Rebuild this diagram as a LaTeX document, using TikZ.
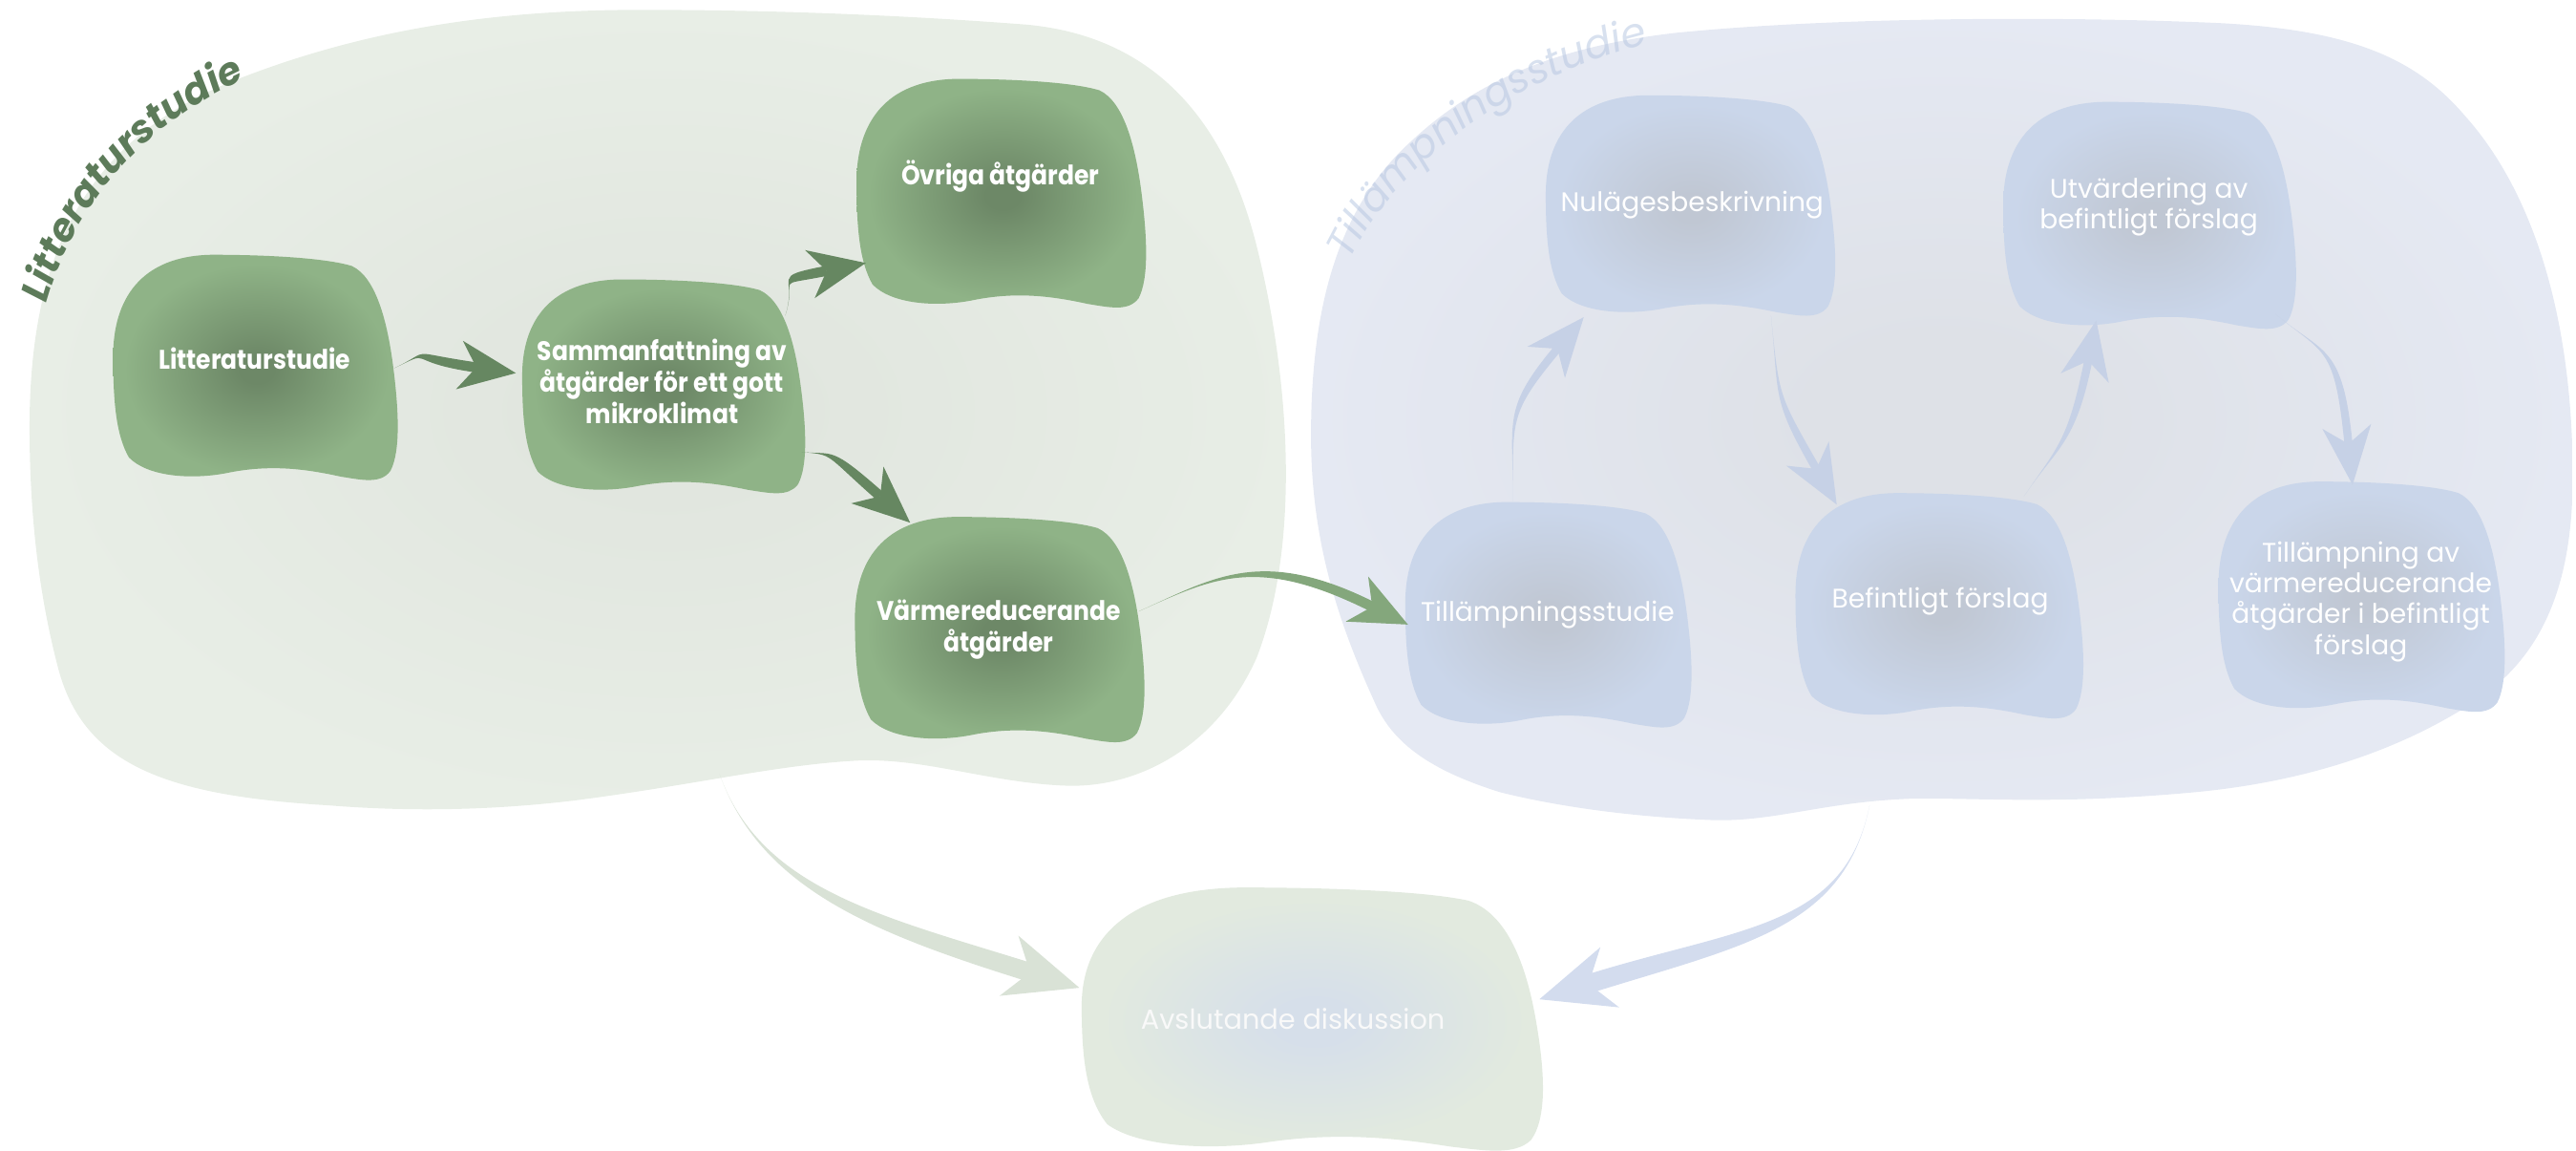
\documentclass[tikz,border=0pt]{standalone}
\usepackage{fontspec}
\setmainfont{Poppins}
\newfontfamily\narrowfont{Poppins}[FakeStretch=0.89]
\usetikzlibrary{calc,decorations.text}

\definecolor{gin}{HTML}{6D8867}
\definecolor{gout}{HTML}{8FB387}
\definecolor{bin}{HTML}{C0C7D3}
\definecolor{bout}{HTML}{CAD6EA}
\definecolor{gain}{HTML}{E1E6DF}
\definecolor{gaout}{HTML}{E8EEE6}
\definecolor{bain}{HTML}{DEE1E7}
\definecolor{baout}{HTML}{E5E9F3}
\definecolor{ain}{HTML}{D6DFEA}
\definecolor{aout}{HTML}{E2EADF}
\definecolor{garrc}{HTML}{668761}
\definecolor{garrl}{HTML}{84A77C}
\definecolor{barrc}{HTML}{C6D1E6}
\definecolor{bigg}{HTML}{D9E2D6}
\definecolor{bigb}{HTML}{D3DCEE}
\definecolor{gtitle}{HTML}{5D7B5A}
\definecolor{btitle}{HTML}{B8C8E2}

\pgfdeclareradialshading{gshade}{\pgfpoint{0bp}{0bp}}{color(0bp)=(gin); color(3bp)=(gin); color(23bp)=(gout); color(50bp)=(gout)}
\pgfdeclareradialshading{bshade}{\pgfpoint{0bp}{0bp}}{color(0bp)=(bin); color(3bp)=(bin); color(23bp)=(bout); color(50bp)=(bout)}
\pgfdeclareradialshading{gashade}{\pgfpoint{0bp}{0bp}}{color(0bp)=(gain); color(5bp)=(gain); color(25bp)=(gaout); color(50bp)=(gaout)}
\pgfdeclareradialshading{bashade}{\pgfpoint{0bp}{0bp}}{color(0bp)=(bain); color(5bp)=(bain); color(25bp)=(baout); color(50bp)=(baout)}
\pgfdeclareradialshading{ashade}{\pgfpoint{0bp}{0bp}}{color(0bp)=(ain); color(4bp)=(ain); color(23bp)=(aout); color(50bp)=(aout)}

\pgfdeclarelayer{back}
\pgfdeclarelayer{blobs}
\pgfsetlayers{back,blobs,main}

% soft rounded box with a wavy bottom, centred on a node plus an offset
\newcommand\blobat[6]{%
  \begin{scope}[shift={($(#1)+(#2,#3)$)},xscale=#4,yscale=#5]
    \path[#6] (-0.99,-0.1) .. controls (-0.99,-0.6) and (-0.8,-0.99) .. (-0.3,-1)
      .. controls (0.1,-1) and (0.5,-0.97) .. (0.68,-0.9)
      .. controls (0.85,-0.8) and (0.93,-0.4) .. (0.97,0)
      .. controls (1.01,0.4) and (1.02,0.75) .. (0.95,0.92)
      .. controls (0.88,1.04) and (0.75,1.0) .. (0.6,0.97)
      .. controls (0.35,0.9) and (0.1,0.86) .. (-0.2,0.94)
      .. controls (-0.45,1.0) and (-0.75,0.97) .. (-0.88,0.8)
      .. controls (-0.97,0.6) and (-0.99,0.3) .. (-0.99,-0.1) -- cycle;
  \end{scope}}

% tapered curved arrow: start, first control (relative to start),
% second control (relative to end), end, colour,
% shaft half-width at the head, head length, head half-width
\newcommand\swoosh[8]{%
  \coordinate (sw-s) at #1;
  \coordinate (sw-e) at #4;
  \coordinate (sw-c1) at ($(sw-s)+#2$);
  \coordinate (sw-c2) at ($(sw-e)+#3$);
  \coordinate (sw-b) at ($(sw-e)!#7!(sw-c2)$);
  \coordinate (sw-bl) at ($(sw-b)!#6!90:(sw-e)$);
  \coordinate (sw-br) at ($(sw-b)!#6!-90:(sw-e)$);
  \coordinate (sw-hl) at ($(sw-b)!#8!90:(sw-e)$);
  \coordinate (sw-hr) at ($(sw-b)!#8!-90:(sw-e)$);
  \coordinate (sw-n) at ($(sw-b)!0.3!(sw-e)$);
  \fill[#5] (sw-s) .. controls (sw-c1) and ($(sw-c2)+(sw-bl)-(sw-e)$)
      .. ($(sw-n)+(sw-bl)-(sw-b)$) -- ($(sw-n)+(sw-br)-(sw-b)$)
      .. controls ($(sw-c2)+(sw-br)-(sw-e)$) and (sw-c1) .. (sw-s) -- cycle;
  \fill[#5] (sw-e) -- (sw-hl) -- (sw-n) -- (sw-hr) -- cycle;}

\begin{document}
\begin{tikzpicture}[x=0.017207cm, y=-0.017207cm,
  gtext/.style={text=white, font=\fontsize{8}{9.3}\selectfont\narrowfont\bfseries, align=center, inner sep=0pt},
  btext/.style={text=white, font=\fontsize{8}{9.2}\selectfont, align=center, inner sep=0pt},
  atext/.style={text=white!95!gray, font=\fontsize{8.2}{10}\selectfont, align=center, inner sep=0pt},
  gblob/.style={shading=gshade},
  bblob/.style={shading=bshade},
  ablob/.style={shading=ashade}]

\useasboundingbox (0,0) rectangle (1568,700);
\clip (0,0) rectangle (1568,700);

% study areas
\begin{pgfonlayer}{back}
\path[shading=gashade] (18,260) .. controls (18,150) and (55,85) .. (140,50)
  .. controls (220,18) and (300,6) .. (390,6)
  .. controls (480,6) and (560,10) .. (625,15)
  .. controls (700,22) and (745,70) .. (765,150)
  .. controls (785,230) and (792,330) .. (765,400)
  .. controls (742,452) and (695,480) .. (648,478)
  .. controls (600,476) and (560,460) .. (518,463)
  .. controls (470,466) and (420,478) .. (350,487)
  .. controls (300,493) and (250,494) .. (200,490)
  .. controls (100,484) and (50,465) .. (35,405)
  .. controls (22,355) and (18,305) .. (18,260) -- cycle;
\path[shading=bashade] (798,265) .. controls (798,185) and (815,125) .. (860,85)
  .. controls (900,48) and (950,28) .. (1020,20)
  .. controls (1120,10) and (1260,10) .. (1350,14)
  .. controls (1430,18) and (1470,35) .. (1500,70)
  .. controls (1545,120) and (1566,200) .. (1566,290)
  .. controls (1566,360) and (1545,400) .. (1509,425)
  .. controls (1460,458) and (1400,476) .. (1336,482)
  .. controls (1250,490) and (1200,485) .. (1162,486)
  .. controls (1110,488) and (1080,500) .. (1043,499)
  .. controls (990,497) and (945,490) .. (913,482)
  .. controls (875,470) and (850,455) .. (838,430)
  .. controls (815,380) and (798,330) .. (798,265) -- cycle;
\end{pgfonlayer}

% area titles, set along the rim of each area
\path[decorate, decoration={text along path, text align=center, text color=gtitle,
  text={|\fontsize{11.5}{13}\selectfont\bfseries\itshape|Litteraturstudie}}]
  (29,182) .. controls (45,127) and (85,78) .. (147,49);
\begin{scope}[opacity=0.55]
\path[decorate, decoration={text along path, text align=center, text color=btitle,
  text={|\fontsize{12}{14}\selectfont\itshape|Tillämpningsstudie}}]
  (824,154) .. controls (852,99) and (918,49) .. (999,28);
\end{scope}

% steps
\node[gtext] (lit) at (155,218) {Litteraturstudie};
\node[gtext] (sam) at (403,232) {Sammanfattning av\\åtgärder för ett gott\\mikroklimat};
\node[gtext] (ovr) at (609,107) {Övriga åtgärder};
\node[gtext] (varm) at (608,383) {Värmereducerande\\åtgärder};
\node[btext] (nul) at (1030,125) {Nulägesbeskrivning};
\node[btext] (utv) at (1308,126) {Utvärdering av\\befintligt förslag};
\node[btext] (till) at (942,374) {Tillämpningsstudie};
\node[btext] (bef) at (1181,366) {Befintligt förslag};
\node[btext] (tapp) at (1437,366) {Tillämpning av\\värmereducerande\\åtgärder i befintligt\\förslag};
\node[atext] (avs) at (787,620) {Avslutande diskussion};

\begin{pgfonlayer}{blobs}
\blobat{lit}{0}{5.5}{87}{68.5}{gblob}
\blobat{sam}{0.5}{3}{86.5}{65}{gblob}
\blobat{ovr}{0}{10.5}{88.5}{69.5}{gblob}
\blobat{varm}{0}{0}{88.5}{68.5}{gblob}
\blobat{nul}{-1.5}{0}{88.5}{67}{bblob}
\blobat{utv}{0}{5}{89.5}{69}{bblob}
\blobat{till}{0}{0}{87.5}{68.5}{bblob}
\blobat{bef}{-1}{2.5}{88}{68.5}{bblob}
\blobat{tapp}{0}{-3}{87.5}{70}{bblob}
\blobat{avs}{11}{0}{141}{80}{ablob}
\end{pgfonlayer}

% free ends of the two closing arrows
\coordinate (litout) at (438,471);
\coordinate (appout) at (1138,490);

% connectors
\swoosh{($(lit)+(85,6)$)}{(25,-12)}{(-35,-5)}{($(sam)+(-89,-5)$)}{garrc}{1.5pt}{17pt}{7.3pt}
\swoosh{($(sam)+(75,-40)$)}{(8,-25)}{(-25,5)}{($(ovr)+(-82,53)$)}{garrc}{1.5pt}{17pt}{7.3pt}
\swoosh{($(sam)+(85,43)$)}{(20,2)}{(-25,-22)}{($(varm)+(-54,-65)$)}{garrc}{1.5pt}{17pt}{7.3pt}
\swoosh{($(varm)+(85,-11)$)}{(45,-20)}{(-60,-30)}{($(till)+(-85,6)$)}{garrl}{1.5pt}{17pt}{7.5pt}
\swoosh{($(till)+(-21,-69)$)}{(0,-50)}{(-25,30)}{($(nul)+(-66,68)$)}{barrc}{1.2pt}{17.5pt}{7.3pt}
\swoosh{($(nul)+(48,67)$)}{(5,50)}{(-20,-35)}{($(bef)+(-63,-59)$)}{barrc}{1.2pt}{17.5pt}{7.3pt}
\swoosh{($(bef)+(51,-64)$)}{(20,-30)}{(-8,40)}{($(utv)+(-32,69)$)}{barrc}{1.2pt}{17.5pt}{7.3pt}
\swoosh{($(utv)+(77,65)$)}{(30,25)}{(-5,-50)}{($(tapp)+(-5,-71)$)}{barrc}{1.2pt}{17.5pt}{7.3pt}
\swoosh{(litout)}{(25,70)}{(-80,-25)}{($(avs)+(-130,-19)$)}{bigg}{2.8pt}{22pt}{9.4pt}
\swoosh{(appout)}{(-15,75)}{(80,-25)}{($(avs)+(150,-12)$)}{bigb}{2.8pt}{22pt}{9.4pt}
\end{tikzpicture}
\end{document}
